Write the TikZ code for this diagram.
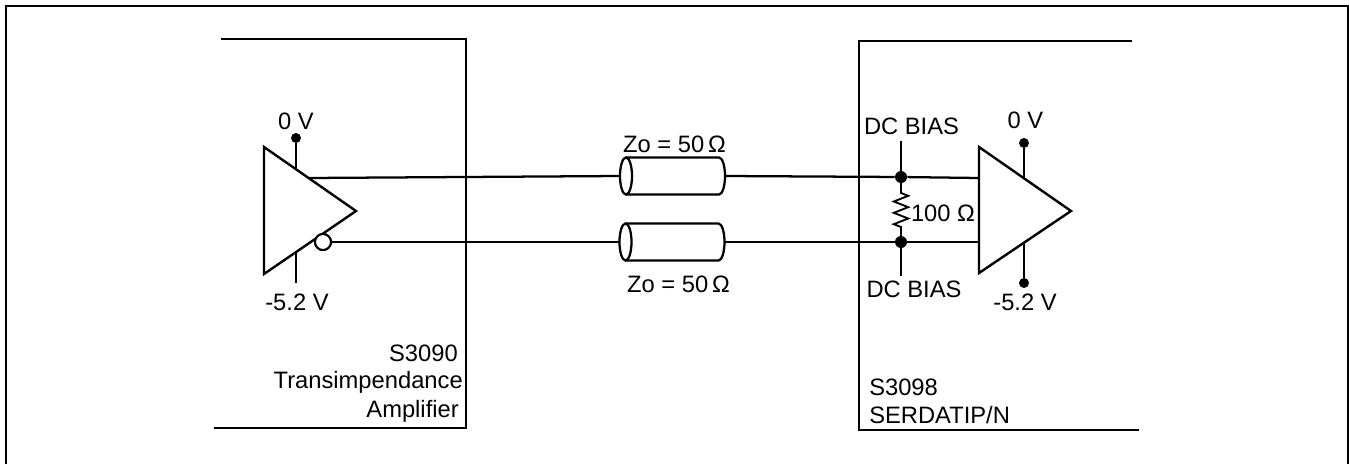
\documentclass[tikz,border=0pt]{standalone}
\usepackage{xcolor}
\usepackage{fontspec}
\setmainfont{Liberation Sans}
\usepackage{tikz}
\usetikzlibrary{decorations.pathmorphing}

\begin{document}
\begin{tikzpicture}
    [%%%%%%%%%%%%%%%%%%%%%%%%%%%%%%
        x=0.75pt,y=-0.75pt,
        label text/.style={inner sep=0pt,font=\fontsize{17.8pt}{20pt}\selectfont},
        frame line/.style={draw=black,line width=1.5pt},
        box line/.style={draw=black,line width=1pt},
        wire/.style={draw=black,line width=1.7pt},
        stub/.style={draw=black,line width=1.3pt},
        amp/.style={draw=black,line width=1.8pt,line join=miter},
        cable/.style={rectangle,minimum height=27.75pt,minimum width=78.75pt,inner sep=0pt,outer sep=0pt},
        cable line/.style={draw=black,line width=1.7pt},
        dot/.style={circle,fill=black,draw=none,minimum size=#1,inner sep=0pt},
        bubble/.style={circle,fill=white,draw=black,line width=1.5pt,minimum size=12pt,inner sep=0pt},
        resistor/.style={draw=black,line width=1.4pt,decorate,
            decoration={zigzag,amplitude=5.4pt,segment length=8.5pt,pre length=12pt,post length=11pt}}
    ]%%%%%%%%%%%%%%%%%%%%%%%%%%%%%%

\useasboundingbox (0,0) rectangle (1349,464);

\draw[frame line] (6,464) -- (6,6) -- (1348,6) -- (1348,464);

% left and right boxes
\draw[box line] (221,39) -- (466,39) -- (466,428) -- (214,428);
\draw[box line] (1132,41) -- (859,41) -- (859,430) -- (1139,430);

% amplifier corners
\coordinate (txa) at (264,147);
\coordinate (txb) at (264,274);
\coordinate (txc) at (356,211);
\coordinate (rxa) at (979,147);
\coordinate (rxb) at (979,273);
\coordinate (rxc) at (1071,211);

% cables
\node[cable] (cabletop) at (672.5,176) {};
\node[cable] (cablebot) at (672,242) {};
\foreach \c in {cabletop,cablebot}{
    \draw[cable line] ([xshift=4.5pt]\c.south west) -- ([xshift=-4.5pt]\c.south east)
        arc[start angle=-90,end angle=90,x radius=4.5pt,y radius=13.875pt]
        -- ([xshift=4.5pt]\c.north west);
    \draw[cable line] ([xshift=4.5pt]\c.west) ellipse [x radius=4.5pt,y radius=13.875pt];
}

% wires
\node[dot=9pt] (jtop) at (901,177) {};
\node[dot=9pt] (jbot) at (901,242) {};
\coordinate (txout) at (309,178);
\coordinate (rxtop) at (979,178);
\coordinate (rxbot) at (979,242);
\node[bubble] (inv) at (323,242) {};

\draw[wire] (txout) -- (cabletop.west);
\draw[wire] (cabletop.east) -- (jtop) -- (rxtop);
\draw[wire] (inv) -- (cablebot.west);
\draw[wire] (cablebot.east) -- (jbot) -- (rxbot);

\draw[resistor] (jtop.center) -- (jbot.center);

% supplies
\foreach \name/\px/\ya/\yb in {txpos/296/138/168,rxpos/1024/143/177,rxneg/1024/283/243}{
    \node[dot=7.5pt] (\name) at (\px,\ya) {};
    \coordinate (\name-end) at (\px,\yb);
    \draw[stub] (\name) -- (\name-end);
}
\coordinate (txneg) at (296,283);
\coordinate (txneg-end) at (296,253);
\draw[stub] (txneg) -- (txneg-end);

\coordinate (biastop) at (901,141);
\coordinate (biasbot) at (901,276);
\draw[stub] (biastop) -- (jtop);
\draw[stub] (biasbot) -- (jbot);

\draw[amp] (txa) -- (txc) -- (txb) -- cycle;
\draw[amp] (rxa) -- (rxc) -- (rxb) -- cycle;
\node[bubble] at (inv) {};

% labels
\node[label text,anchor=base] (zotop) at (674.5,152) {Zo = 50\,Ω};
\node[label text,anchor=base] (zobot) at (678.5,292) {Zo = 50\,Ω};
\node[label text,anchor=base] (res) at (943,221) {100 Ω};
\node[label text,anchor=base] (dctop) at (911.5,134) {DC BIAS};
\node[label text,anchor=base] (dcbot) at (914,297) {DC BIAS};
\node[label text,anchor=base] (txzero) at (296,129) {0 V};
\node[label text,anchor=base] (txminus) at (297,310) {-5.2 V};
\node[label text,anchor=base] (rxzero) at (1025.5,128) {0 V};
\node[label text,anchor=base] (rxminus) at (1025,310) {-5.2 V};
\node[label text,anchor=base east] (txname) at (458,361) {S3090};
\node[label text,anchor=base east] (txtype) at (463,388) {Transimpendance};
\node[label text,anchor=base east] (txkind) at (459,417) {Amplifier};
\node[label text,anchor=base west] (rxname) at (869,395) {S3098};
\node[label text,anchor=base west] (rxtype) at (869,423) {SERDATIP/N};

\end{tikzpicture}
\end{document}
